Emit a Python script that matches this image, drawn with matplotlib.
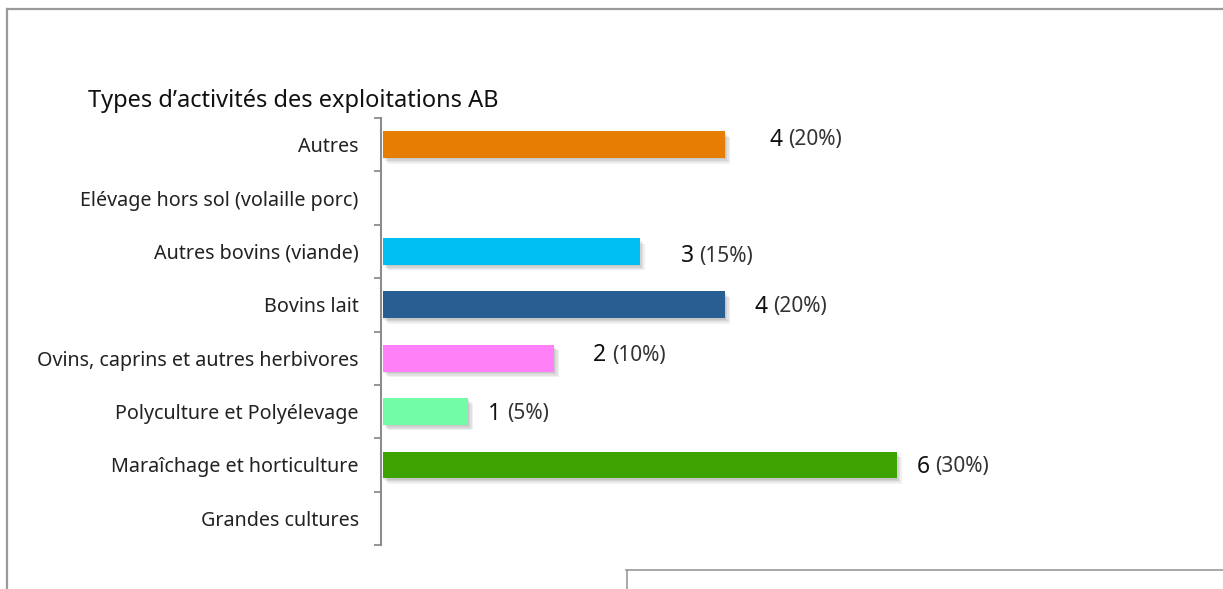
import matplotlib.pyplot as plt
import matplotlib.patheffects as pe
from matplotlib.lines import Line2D

plt.rcParams['font.family'] = ['Noto Sans', 'DejaVu Sans']

# Activity types, listed top to bottom
categories = ['Autres', 'Elévage hors sol (volaille porc)', 'Autres bovins (viande)',
              'Bovins lait', 'Ovins, caprins et autres herbivores',
              'Polyculture et Polyélevage', 'Maraîchage et horticulture', 'Grandes cultures']
counts = [4, 0, 3, 4, 2, 1, 6, 0]
percents = [20, 0, 15, 20, 10, 5, 30, 0]
colors = ['#E67E04', '#D9D9D9', '#00BFF3', '#285E91', '#FF80F7', '#73FCA8', '#3CA300', '#D9D9D9']

# pixel offsets of the value labels from the bar ends (dx, dy up)
label_dx = [44, 0, 41, 29, 39, 20, 20, 0]
label_dy = [5, 0, -5, -2, 3, -2, -2, 0]

fig = plt.figure(figsize=(12.23, 5.89), dpi=100)

# frame lines around the chart area
fig.add_artist(Line2D([7 / 1223, 1], [1 - 8.5 / 589] * 2, color='#9A9A9A', lw=1.6))
fig.add_artist(Line2D([7 / 1223] * 2, [0, 1 - 8.5 / 589], color='#9A9A9A', lw=1.6))
fig.add_artist(Line2D([626 / 1223, 1], [1 - 569.5 / 589] * 2, color='#9A9A9A', lw=1.2))
fig.add_artist(Line2D([626.5 / 1223] * 2, [0, 1 - 569.5 / 589], color='#9A9A9A', lw=1.2))

ax = fig.add_axes([381 / 1223, 1 - 545 / 589, 771 / 1223, 427 / 589])
y = list(range(len(categories)))[::-1]

# soft drop shadow built from a few faint offset copies
shadow = [pe.SimplePatchShadow(offset=(o, -o - 0.5), shadow_rgbFace='#000000', alpha=0.06)
          for o in (0.5, 1.5, 2.5, 3.5)]
bars = ax.barh(y, counts, height=0.5, color=colors, left=0.02)
for b in bars:
    b.set_path_effects(shadow + [pe.Normal()])

for yi, c, p, dx, dy in zip(y, counts, percents, label_dx, label_dy):
    if c == 0:
        continue
    num = ax.annotate(str(c), xy=(c + 0.02, yi), xytext=(dx, dy), textcoords='offset pixels',
                      va='center', ha='left', fontsize=16.5, color='#111111')
    ax.annotate(f'({p}%)', xy=(1, 0.5), xycoords=num, xytext=(4, 0), textcoords='offset points',
                va='center', ha='left', fontsize=15, color='#333333')

ax.set_xlim(0, 9)
ax.set_ylim(-0.5, len(categories) - 0.5)
ax.set_yticks(y)
ax.set_yticklabels(categories, fontsize=14.2, color='#222222')
ax.set_yticks([i - 0.5 for i in range(len(categories) + 1)], minor=True)
ax.tick_params(axis='y', which='major', length=0, pad=16)
ax.tick_params(axis='y', which='minor', length=5, width=1.3, color='#8C8C8C')
ax.set_xticks([])
for s in ['top', 'right', 'bottom']:
    ax.spines[s].set_visible(False)
ax.spines['left'].set_color('#8C8C8C')
ax.spines['left'].set_linewidth(1.5)

fig.text(88 / 1223, 1 - 101 / 589, 'Types d’activités des exploitations AB',
         fontsize=17, color='#111111', va='center', ha='left')

fig.savefig('out.png', dpi=100)
